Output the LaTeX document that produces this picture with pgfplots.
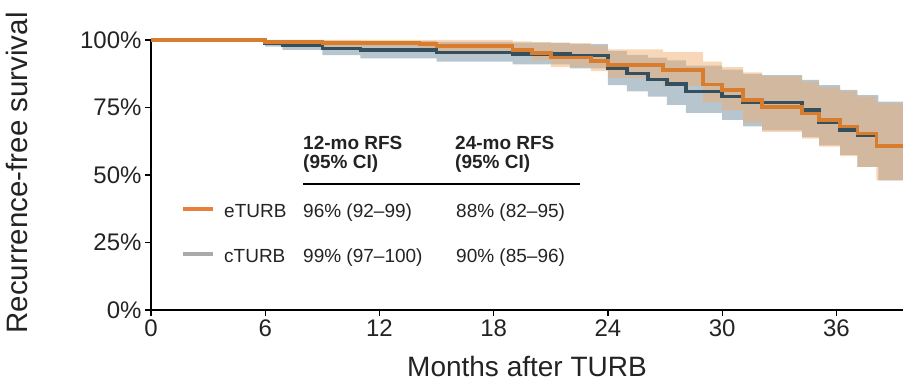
\documentclass[border=0pt]{standalone}
\usepackage{pgfplots}
\usepackage{pgfplotstable}
\pgfplotsset{compat=1.18}
\usepgfplotslibrary{fillbetween}
\usepackage{fontspec}
\setmainfont{Liberation Sans}
\definecolor{orgline}{RGB}{215,125,45}
\definecolor{orgband}{RGB}{240,168,103}
\definecolor{gryline}{RGB}{52,80,94}
\definecolor{grybandc}{RGB}{183,198,206}
\definecolor{txt}{RGB}{35,35,35}
\definecolor{legorg}{RGB}{232,128,58}
\definecolor{leggry}{RGB}{170,170,170}

\pgfplotstableread{
x upper lower
0 100 100
6 100 98.3
9 100 97.5
14.1 100 97
15 100 96
19 99.5 94
20 99.2 92.5
21 98.8 90
23.1 97.8 88.5
24 96.5 86
26.9 95.5 83
29 92 77
30 90 74
31.1 88 69.5
32.1 86.5 66
34.2 84.5 63.5
35.1 82.5 60.5
36.2 81 57
37.1 79 53
38.1 76.5 48
39.5 76.5 48
}\tabOB

\pgfplotstableread{
x upper lower
0 100 100
6 100 97.5
6.9 100 96.3
9 99.8 94.4
11 99.6 93.2
15 99.3 92
19 99 91
22 98.5 89.5
24 96 83.3
25 94.5 81
26.1 93.5 79
27.1 92.5 76
28.1 90.5 73
30 89 70.4
31.1 87.5 68
32.1 87 66.5
34.2 85.2 64
35.1 83.3 61
36.2 81.5 57.5
37.1 79.6 53
38.2 77.2 48
39.5 77.2 48
}\tabGB

\pgfplotstableread{
x y
0 100
6 99.3
9 98.9
14.1 98.6
15 97.8
19 96.3
20 95.2
21 93.5
23.1 92.3
24 90.8
26.9 88.8
29 83.5
30 81.5
31.1 77.8
32.1 75.2
34.2 72.8
35.1 70.4
36.2 67.9
37.1 65.4
38.1 60.7
39.5 60.7
}\tabOL

\pgfplotstableread{
x y
0 100
6 98.8
6.9 97.9
9 96.9
11 96.3
15 95.3
19 94.8
22 94.3
24 89.5
25 87.6
26.1 85.4
27.1 83.7
28.1 80.9
30 79
31.1 76.9
34.2 74.1
35.1 69.5
36.2 66.7
37.1 64.8
38.2 64.8
}\tabGL

\begin{document}
\begin{tikzpicture}
\begin{axis}[
  scale only axis, width=752pt, height=270pt,
  xmin=0, xmax=39.5, ymin=0, ymax=100,
  clip=false,
  axis x line*=bottom, axis y line*=left,
  axis line style={line width=1.4pt, black},
  xtick={0,6,12,18,24,30,36}, xticklabels={0,6,12,18,24,30,36},
  ytick={0,25,50,75,100}, yticklabels={0\%,25\%,50\%,75\%,100\%},
  tick style={line width=1.2pt, black},
  tick align=outside, major tick length=6pt,
  ticklabel style={font=\fontsize{24}{24}\selectfont, text=txt},
  xlabel={Months after TURB}, ylabel={Recurrence-free survival},
  label style={font=\fontsize{28}{28}\selectfont, text=txt},
  xlabel style={at={([yshift=-66pt]rel axis cs:0.5,0)}, anchor=base},
  ylabel style={at={([xshift=-134pt,yshift=2pt]rel axis cs:0,0.5)}, anchor=center, font=\fontsize{29.5}{29.5}\selectfont},
]
% cTURB band
\addplot[name path=gU, draw=none, const plot, forget plot] table[x=x,y=upper]{\tabGB};
\addplot[name path=gL, draw=none, const plot, forget plot] table[x=x,y=lower]{\tabGB};
\addplot[grybandc, draw=none, forget plot] fill between[of=gU and gL];
% cTURB line
\addplot[gryline, line width=3.5pt, const plot, no marks] table[x=x,y=y]{\tabGL};
% eTURB band
\addplot[name path=oU, draw=none, const plot, forget plot] table[x=x,y=upper]{\tabOB};
\addplot[name path=oL, draw=none, const plot, forget plot] table[x=x,y=lower]{\tabOB};
\addplot[orgband, fill opacity=0.46, draw=none, forget plot] fill between[of=oU and oL];
% eTURB line
\addplot[orgline, line width=3.5pt, const plot, no marks] table[x=x,y=y]{\tabOL};
\end{axis}
% table
\begin{scope}[every node/.style={inner sep=0pt, anchor=base west, text=txt, font=\fontsize{19}{21}\selectfont}]
\node[font=\fontsize{19}{21}\selectfont\bfseries] at (152pt,161pt) {12-mo RFS};
\node[font=\fontsize{19}{21}\selectfont\bfseries] at (152pt,142pt) {(95\% CI)};
\node[font=\fontsize{19}{21}\selectfont\bfseries] at (304pt,161pt) {24-mo RFS};
\node[font=\fontsize{19}{21}\selectfont\bfseries] at (304pt,142pt) {(95\% CI)};
\draw[line width=2pt, black] (152pt,126pt) -- (429pt,126pt);
\draw[line width=3.5pt, legorg] (32pt,101pt) -- (62pt,101pt);
\draw[line width=3.5pt, leggry] (32pt,56pt) -- (62pt,56pt);
\node at (73pt,93pt) {eTURB};
\node at (152pt,93pt) {96\% (92–99)};
\node at (305pt,93pt) {88\% (82–95)};
\node at (73pt,48pt) {cTURB};
\node at (152pt,48pt) {99\% (97–100)};
\node at (305pt,48pt) {90\% (85–96)};
\end{scope}
\pgfresetboundingbox
\path[use as bounding box] (-151pt,-71pt) rectangle (752pt,310pt);
\end{tikzpicture}
\end{document}
